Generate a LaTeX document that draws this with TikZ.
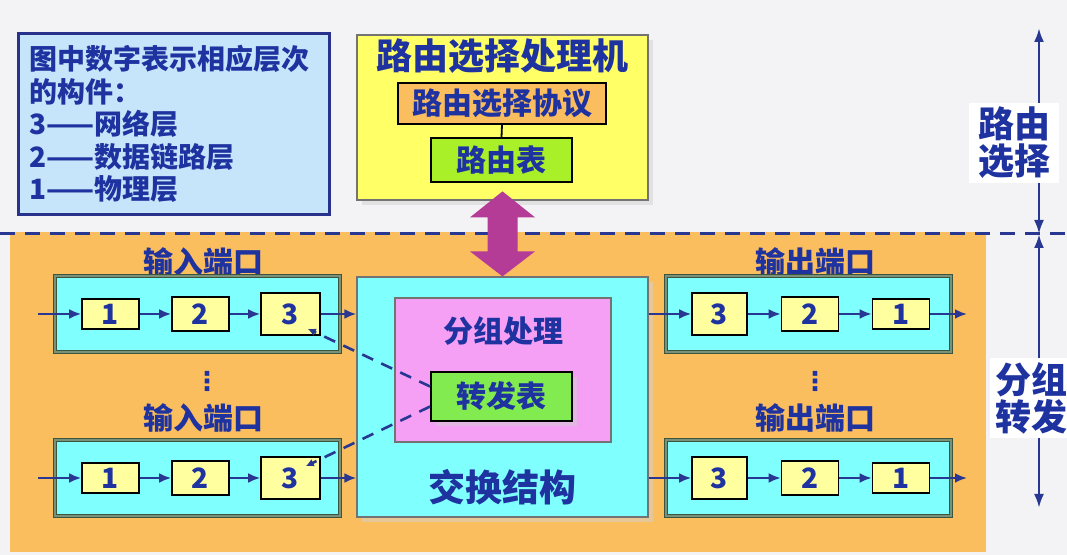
\documentclass[tikz,border=0pt]{standalone}
\usepackage{fontspec}
\setmainfont{Noto Sans CJK SC}
\newfontfamily\symfont{DejaVu Sans}
\usetikzlibrary{arrows.meta,calc,shadows}
\definecolor{TxtClr}{RGB}{30,50,160}
\definecolor{LineClr}{RGB}{40,55,145}
\definecolor{BgClr}{RGB}{243,243,245}
\definecolor{NoteClr}{RGB}{198,228,250}
\definecolor{NoteEdge}{RGB}{40,50,140}
\definecolor{ProcClr}{RGB}{255,255,102}
\definecolor{PlaneClr}{RGB}{250,190,95}
\definecolor{RtabClr}{RGB}{170,240,40}
\definecolor{FtabClr}{RGB}{130,235,80}
\definecolor{FabClr}{RGB}{128,255,255}
\definecolor{PktClr}{RGB}{245,160,245}
\definecolor{LayerClr}{RGB}{255,255,160}
\definecolor{MagClr}{RGB}{180,60,150}
\definecolor{PortEdge}{RGB}{60,85,60}
\definecolor{PortBand}{RGB}{120,145,120}
\begin{document}
\begin{tikzpicture}[x=0.5pt,y=-0.5pt,
  every node/.style={text=TxtClr},
  big/.style={font=\fontsize{18}{18.5}\selectfont\bfseries},
  mid/.style={font=\fontsize{15}{17}\selectfont\bfseries},
  softshadow/.style={drop shadow={shadow xshift=2.5pt,shadow yshift=-2.5pt,fill=black!18}},
  panel/.style={draw=black!55,line width=0.6pt,inner sep=0pt},
  tab/.style={draw=black,line width=0.9pt,inner sep=0pt,mid},
  port/.style={draw=PortEdge,double=PortBand,double distance=1pt,line width=0.7pt,
    fill=FabClr,minimum width=142.5pt,minimum height=38pt},
  layer/.style={draw=black,line width=0.8pt,fill=LayerClr,inner sep=0pt,
    minimum width=28.5pt,minimum height=#1,font=\fontsize{14}{14}\selectfont\bfseries},
  moredots/.style={inner sep=0pt,font=\symfont\fontsize{13}{13}\selectfont\bfseries},
  flow/.style={draw=LineClr,line width=1.3pt,-{Latex[length=6pt,width=5pt]}},
  lookup/.style={draw=LineClr,line width=1.3pt,dash pattern=on 6pt off 4.5pt,
    -{Latex[length=4pt,width=4pt]}},
  span/.style={draw=LineClr,line width=1.3pt,
    {Latex[length=7pt,width=5pt]}-{Latex[length=7pt,width=5pt]}},
  sidelabel/.style={fill=white,inner sep=0pt,align=center,big}]

\useasboundingbox (0,0) rectangle (1067,555);
\fill[BgClr] (0,0) rectangle (1067,555);

% forwarding plane
\fill[PlaneClr] (10,232) rectangle (986,552);
\draw[LineClr,line width=1.5pt,dash pattern=on 7.5pt off 5pt] (0,234) -- (1067,234);

% legend
\node[draw=NoteEdge,line width=1.5pt,fill=NoteClr,anchor=north west,inner xsep=5.5pt,inner ysep=0pt,
  minimum width=155.5pt,minimum height=90.5pt,text width=144.5pt,align=left,
  font=\fontsize{14}{16.25}\selectfont\bfseries] (note) at (17,32)
  {图中数字表示相应层次\\的构件：\\3——网络层\\2——数据链路层\\1——物理层};

% routing processor
\node[panel,fill=ProcClr,softshadow,minimum width=145.5pt,minimum height=82.5pt] (proc) at (502.5,117.5) {};
\node[big] (procT) at ($(proc.north)+(0,22)$) {路由选择处理机};
\node[tab,fill=PlaneClr,minimum width=104pt,minimum height=20.5pt] (proto) at (502,103.5) {路由选择协议};
\node[tab,fill=RtabClr,minimum width=70.5pt,minimum height=22pt] (rtab) at (501.5,160) {路由表};
\draw[line width=0.9pt] (proto.south) -- (rtab.north);

% switch fabric
\node[panel,fill=FabClr,softshadow,minimum width=145.5pt,minimum height=120pt] (fab) at (502.5,397) {};
\node[font=\fontsize{18.5}{18.5}\selectfont\bfseries] (fabT) at ($(fab.south)+(0,-30)$) {交换结构};
\node[panel,fill=PktClr,minimum width=108pt,minimum height=72pt] (pkt) at (503,370) {};
\node[mid] (pktT) at ($(pkt.north)+(0,34)$) {分组处理};
\node[tab,fill=FtabClr,softshadow,minimum width=70.5pt,minimum height=24.5pt] (ftab) at (501.5,396.5) {转发表};

\fill[MagClr] (fab.north) -- ++(-32.5,-25) -- ++(17.5,0) -- ++(0,-34) -- ++(-17.5,0)
  -- ++(32.5,-26) -- ++(32.5,26) -- ++(-17.5,0) -- ++(0,34) -- ++(17.5,0) -- cycle;

% input ports
\node[mid] (in1T) at (203,262) {输入端口};
\node[port] (in1) at (197.5,314) {};
\node[layer=15pt] (in1a) at (110.5,314) {1};
\node[layer=17pt] (in1b) at (200.5,314) {2};
\node[layer=21pt,minimum width=29.5pt] (in1c) at (290.5,314) {3};
\node[moredots] (inDots) at (207,381) {⋮};
\node[mid] (in2T) at (203,418) {输入端口};
\node[port] (in2) at (197.5,478) {};
\node[layer=15pt] (in2a) at (110.5,478) {1};
\node[layer=17pt] (in2b) at (200.5,478) {2};
\node[layer=21pt,minimum width=29.5pt] (in2c) at (290.5,478) {3};

% output ports
\node[mid] (out1T) at (815,262) {输出端口};
\node[port] (out1) at (808.5,314) {};
\node[layer=21pt,minimum width=27.5pt] (out1c) at (719.5,314) {3};
\node[layer=17pt] (out1b) at (810,314) {2};
\node[layer=15pt] (out1a) at (901,314) {1};
\node[moredots] (outDots) at (815,381) {⋮};
\node[mid] (out2T) at (815,418) {输出端口};
\node[port] (out2) at (808.5,478) {};
\node[layer=21pt,minimum width=27.5pt] (out2c) at (719.5,478) {3};
\node[layer=17pt] (out2b) at (810,478) {2};
\node[layer=15pt] (out2a) at (901,478) {1};

\coordinate (in1s) at (38,314);
\coordinate (in2s) at (38,478);
\coordinate (out1e) at (967,314);
\coordinate (out2e) at (967,478);

\draw[flow] (in1s) -- (in1a);
\draw[flow] (in1a) -- (in1b);
\draw[flow] (in1b) -- (in1c);
\draw[flow] (in1c) -- (in1c -| fab.west);
\draw[flow] (in2s) -- (in2a);
\draw[flow] (in2a) -- (in2b);
\draw[flow] (in2b) -- (in2c);
\draw[flow] (in2c) -- (in2c -| fab.west);
\draw[flow] (fab.east |- out1c) -- (out1c);
\draw[flow] (out1c) -- (out1b);
\draw[flow] (out1b) -- (out1a);
\draw[flow] (out1a) -- (out1e);
\draw[flow] (fab.east |- out2c) -- (out2c);
\draw[flow] (out2c) -- (out2b);
\draw[flow] (out2b) -- (out2a);
\draw[flow] (out2a) -- (out2e);

% table lookup
\draw[lookup] ($(ftab.west)+(0,-10)$) -- ($(in1c.south east)+(-13,-7)$);
\draw[lookup] ($(ftab.west)+(0,10)$) -- ($(in2c.north east)+(-15,10)$);

% planes at the right
\coordinate (selTop) at (1039,28);
\coordinate (planeSep) at (1039,234);
\coordinate (fwdBot) at (1039,508);
\draw[span] (selTop) -- (planeSep);
\draw[span] (planeSep) -- (fwdBot);
\node[sidelabel,minimum width=45pt,minimum height=40pt] (selT) at (1014,143) {路由\\选择};
\node[sidelabel,minimum width=41pt,minimum height=40pt] (fwdT) at (1031,398) {分组\\转发};

\end{tikzpicture}
\end{document}
